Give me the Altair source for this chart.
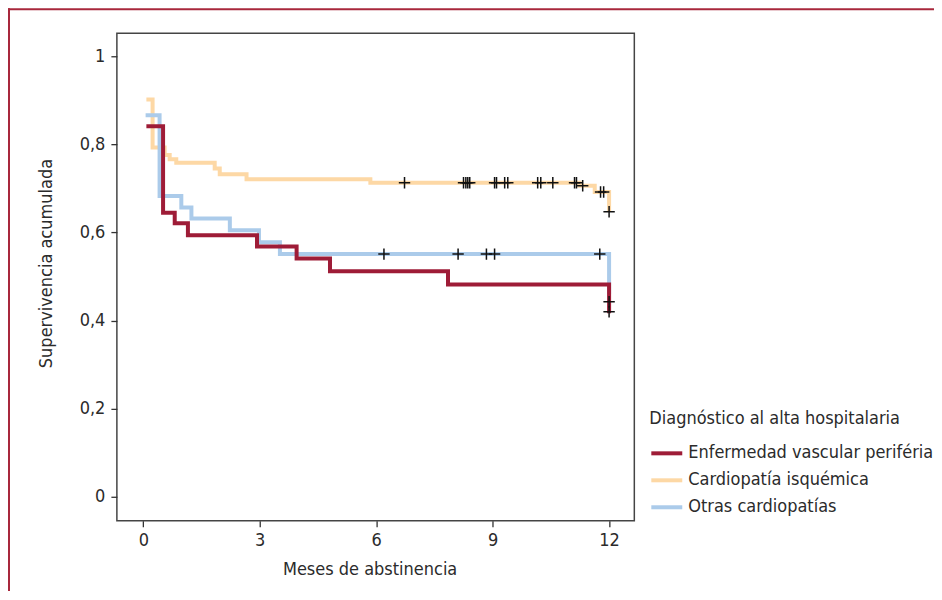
import altair as alt
import pandas as pd

groups = ["Enfermedad vascular periféria", "Cardiopatía isquémica", "Otras cardiopatías"]
colors = ["#9e1c37", "#fdd8a5", "#abcbea"]

# Kaplan-Meier steps (time in months, cumulative survival)
red_t = [0.08, 0.51, 0.81, 1.15, 2.93, 3.95, 4.81, 7.85, 12.0]
red_s = [0.841, 0.645, 0.621, 0.594, 0.568, 0.541, 0.512, 0.482, 0.417]

orange_t = [0.08, 0.24, 0.55, 0.68, 0.85, 1.84, 1.97, 2.66, 5.85, 11.24, 11.63, 12.0]
orange_s = [0.902, 0.793, 0.776, 0.766, 0.758, 0.745, 0.732, 0.721, 0.713, 0.706, 0.692, 0.647]

blue_t = [0.06, 0.42, 0.98, 1.24, 2.23, 2.98, 3.52, 12.0]
blue_s = [0.866, 0.683, 0.657, 0.632, 0.605, 0.578, 0.551, 0.46]

# Censored observations
red_cens_t = [12.0, 12.0]
red_cens_s = [0.443, 0.420]
blue_cens_t = [6.2, 8.11, 8.84, 9.05, 11.76]
blue_cens_s = [0.551, 0.551, 0.551, 0.551, 0.551]
orange_cens_t = [6.73, 8.25, 8.31, 8.36, 8.41, 9.05, 9.1, 9.31, 9.39, 10.16, 10.24, 10.55,
                 11.11, 11.16, 11.32, 11.78, 11.86, 12.0]
orange_cens_s = [0.713, 0.713, 0.713, 0.713, 0.713, 0.713, 0.713, 0.713, 0.713, 0.713, 0.713, 0.713,
                 0.713, 0.713, 0.706, 0.692, 0.692, 0.647]

x_ticks = [0, 3, 6, 9, 12]
y_ticks = [0, 0.2, 0.4, 0.6, 0.8, 1]

FONT = "Liberation Sans Narrow, DejaVu Sans Condensed, sans-serif"
TXT = "#2b2b2b"

def steps(g, ts, ss):
    return pd.DataFrame({"grupo": g, "t": ts, "s": ss, "i": list(range(len(ts)))})

df_red = steps(groups[0], red_t, red_s)
df_or = steps(groups[1], orange_t, orange_s)
df_bl = steps(groups[2], blue_t, blue_s)

cens = pd.DataFrame({
    "t": red_cens_t + blue_cens_t + orange_cens_t,
    "s": red_cens_s + blue_cens_s + orange_cens_s,
})

xs = alt.Scale(domain=[-0.68, 12.65], nice=False, zero=False)
ys = alt.Scale(domain=[-0.054, 1.052], nice=False, zero=False)
cs = alt.Scale(domain=groups, range=colors)

xaxis = alt.Axis(values=x_ticks, title="Meses de abstinencia",
                 labelExpr="replace(toString(datum.value), '.', ',')",
                 titleX=253, titleY=49, titleBaseline="middle", titleAnchor="start", titleAlign="center")
yaxis = alt.Axis(values=y_ticks, title="Supervivencia acumulada",
                 labelExpr="replace(toString(datum.value), '.', ',')",
                 titleX=-70, titleY=230, titleBaseline="middle", titleAlign="center")

legend = alt.Legend(title="Diagnóstico al alta hospitalaria", orient="none",
                    legendX=533, legendY=377, symbolType="stroke", symbolSize=960,
                    symbolStrokeWidth=4, labelFontSize=18, titleFontSize=18,
                    titleFontWeight="normal", labelFont=FONT, titleFont=FONT,
                    labelColor=TXT, titleColor=TXT, rowPadding=-4, titlePadding=8,
                    labelOffset=4, padding=0, labelLimit=0, titleLimit=0)

def line(df, with_legend):
    return alt.Chart(df).mark_line(interpolate="step-after", strokeWidth=4,
                                   strokeJoin="miter", strokeCap="butt").encode(
        x=alt.X("t:Q", scale=xs, axis=xaxis),
        y=alt.Y("s:Q", scale=ys, axis=yaxis),
        color=alt.Color("grupo:N", scale=cs, legend=legend if with_legend else None),
        order="i:Q",
    )

censor = alt.Chart(cens).mark_point(shape="M-1,0L1,0M0,-1L0,1", size=130, filled=False,
                                    stroke="#111", strokeWidth=1.5, opacity=1).encode(
    x=alt.X("t:Q", scale=xs),
    y=alt.Y("s:Q", scale=ys),
)

frame_df = pd.DataFrame({"a": [0]})
frame_top = alt.Chart(frame_df).mark_rule(color="#a8283c", strokeWidth=2).encode(
    x=alt.value(-109), x2=alt.value(830), y=alt.value(-24))
frame_left = alt.Chart(frame_df).mark_rule(color="#a8283c", strokeWidth=2).encode(
    x=alt.value(-108), y=alt.value(-25), y2=alt.value(570))

chart = alt.layer(
    line(df_or, True), line(df_bl, True), line(df_red, True), censor, frame_top, frame_left
).properties(
    width=518, height=488,
    autosize=alt.AutoSizeParams(type="none"),
    padding={"left": 109, "top": 25, "right": 300, "bottom": 70},
).configure_view(
    stroke="#444", strokeWidth=1.5
).configure_axis(
    grid=False, domain=False, ticks=True, tickSize=6, tickColor="#333", tickWidth=1.3,
    labelFont=FONT, labelFontSize=18, labelColor=TXT, labelPadding=5,
    titleFont=FONT, titleFontSize=18, titleFontWeight="normal", titleColor=TXT,
).configure_axisY(labelPadding=6)

chart.save("out.html", embed_options={"renderer": "svg", "actions": False})
